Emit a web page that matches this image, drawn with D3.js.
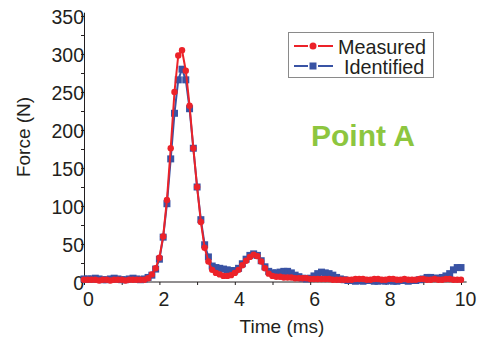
<!DOCTYPE html>
<html>
<head>
<meta charset="utf-8">
<script src="https://cdn.jsdelivr.net/npm/d3@7"></script>
<style>
  body { margin: 0; background: #fff; }
  text { font-family: "Liberation Sans", Arial, sans-serif; fill: #231f20; }
</style>
</head>
<body>
<div id="chart"></div>
<script>
// sample times (ms)
const timeMs = [
  0.0, 0.1, 0.2, 0.3, 0.4, 0.5, 0.6, 0.7, 0.8, 0.9,
  1.0, 1.1, 1.2, 1.3, 1.4, 1.5, 1.6, 1.7, 1.8, 1.9,
  2.0, 2.1, 2.2, 2.3, 2.4, 2.5, 2.6, 2.7, 2.8, 2.9,
  3.0, 3.1, 3.2, 3.3, 3.4, 3.5, 3.6, 3.7, 3.8, 3.9,
  4.0, 4.1, 4.2, 4.3, 4.4, 4.5, 4.6, 4.7, 4.8, 4.9,
  5.0, 5.1, 5.2, 5.3, 5.4, 5.5, 5.6, 5.7, 5.8, 5.9,
  6.0, 6.1, 6.2, 6.3, 6.4, 6.5, 6.6, 6.7, 6.8, 6.9,
  7.0, 7.1, 7.2, 7.3, 7.4, 7.5, 7.6, 7.7, 7.8, 7.9,
  8.0, 8.1, 8.2, 8.3, 8.4, 8.5, 8.6, 8.7, 8.8, 8.9,
  9.0, 9.1, 9.2, 9.3, 9.4, 9.5, 9.6, 9.7, 9.8, 9.9,
  10.0
];

const measured = [
  3, 3, 3, 3, 2, 3, 3, 2, 3, 3,
  3, 2, 3, 3, 3, 3, 3, 5, 10, 18,
  32, 60, 108, 176, 250, 298, 305, 278, 232, 176,
  125, 79, 45, 27, 16, 12, 10, 8, 8, 9,
  12, 16, 22, 28, 33, 36, 34, 27, 18, 11,
  8, 7, 7, 6, 6, 6, 5, 5, 5, 5,
  4, 4, 4, 4, 4, 4, 3, 3, 3, 3,
  3, 3, 4, 4, 4, 3, 3, 4, 4, 3,
  3, 4, 4, 3, 3, 4, 3, 3, 3, 4,
  4, 3, 3, 4, 3, 3, 4, 4, 3, 3,
  3
];

const identified = [
  4, 4, 4, 5, 4, 3, 3, 4, 5, 4,
  3, 3, 4, 5, 4, 3, 4, 6, 9, 17,
  30, 59, 103, 162, 222, 266, 280, 266, 228, 176,
  125, 82, 49, 33, 21, 19, 18, 17, 16, 15,
  15, 18, 24, 30, 35, 37, 35, 28, 20, 14,
  12, 12, 13, 14, 14, 12, 9, 7, 5, 4,
  5, 8, 11, 13, 12, 11, 9, 6, 4, 3,
  2, 2, 1, 2, 1, 2, 2, 1, 1, 2,
  1, 2, 1, 1, 2, 2, 1, 2, 2, 3,
  4, 6, 6, 5, 5, 6, 8, 11, 16, 19,
  19
];

const seriesNames = ["Measured", "Identified"];
const xTicks = [0, 2, 4, 6, 8, 10];
const xMinor = [1, 3, 5, 7, 9];
const yTicks = [0, 50, 100, 150, 200, 250, 300, 350];

const width = 483, height = 343;
const red = "#ec2229", blue = "#3953a4";

const svg = d3.select("#chart")
  .append("svg")
  .attr("width", width)
  .attr("height", height);

const x = d3.scaleLinear().domain([0, 10]).range([84, 461]);
const y = d3.scaleLinear().domain([0, 355]).range([282, 12.2]);

// axes
const xAxis = svg.append("g")
  .attr("transform", `translate(0,${y(0)})`)
  .call(d3.axisBottom(x).tickValues(d3.merge([xTicks, xMinor])).tickSizeInner(3).tickSizeOuter(0)
    .tickFormat(d => xTicks.includes(d) ? d : ""));
xAxis.select(".domain").attr("d", `M${x(0)},0H${x(10.15)}`);
xAxis.selectAll("text")
  .attr("x", 4)
  .attr("y", 10)
  .style("font-size", "19.5px")
  .style("font-family", "Liberation Sans, Arial, sans-serif")
  .attr("fill", "#231f20");

const yAxis = svg.append("g")
  .attr("transform", `translate(${x(0)},0)`)
  .call(d3.axisLeft(y).tickValues(d3.range(0, 351, 25)).tickSizeInner(3).tickSizeOuter(0)
    .tickFormat(d => yTicks.includes(d) ? d : ""));
yAxis.selectAll("text")
  .attr("x", 0)
  .attr("dy", "0.36em")
  .style("font-size", "19.5px")
  .style("font-family", "Liberation Sans, Arial, sans-serif")
  .attr("fill", "#231f20");
svg.selectAll(".domain, .tick line").attr("stroke", "#231f20");

svg.append("text")
  .attr("x", 282)
  .attr("y", 333)
  .attr("text-anchor", "middle")
  .style("font-size", "19px")
  .text("Time (ms)");

svg.append("text")
  .attr("transform", "translate(30,137) rotate(-90)")
  .attr("text-anchor", "middle")
  .style("font-size", "19px")
  .text("Force (N)");

// series
const line = d3.line()
  .x(d => x(d[0]))
  .y(d => y(d[1]));

const blueData = timeMs.map((t, i) => [t, identified[i]]);
const redData = timeMs.map((t, i) => [t, measured[i]]);

svg.append("path")
  .datum(blueData)
  .attr("fill", "none")
  .attr("stroke", blue)
  .attr("stroke-width", 2)
  .attr("d", line);

svg.selectAll(".sq")
  .data(blueData)
  .enter().append("rect")
  .attr("class", "sq")
  .attr("x", d => x(d[0]) - 3.5)
  .attr("y", d => y(d[1]) - 3.5)
  .attr("width", 7)
  .attr("height", 7)
  .attr("fill", blue);

svg.append("path")
  .datum(redData)
  .attr("fill", "none")
  .attr("stroke", red)
  .attr("stroke-width", 2)
  .attr("d", line);

svg.selectAll(".dot")
  .data(redData)
  .enter().append("circle")
  .attr("class", "dot")
  .attr("cx", d => x(d[0]))
  .attr("cy", d => y(d[1]))
  .attr("r", 3.2)
  .attr("fill", red);

// legend
const legend = svg.append("g");
legend.append("rect")
  .attr("x", 288.5)
  .attr("y", 32.5)
  .attr("width", 145)
  .attr("height", 45)
  .attr("fill", "#fff")
  .attr("stroke", "#8a8a8a");

const legendRows = [
  { name: seriesNames[0], color: red, shape: "circle", y: 46, tx: 338 },
  { name: seriesNames[1], color: blue, shape: "square", y: 66, tx: 344 }
];
legendRows.forEach(r => {
  legend.append("line").attr("x1", 294).attr("x2", 308).attr("y1", r.y).attr("y2", r.y)
    .attr("stroke", r.color).attr("stroke-width", 2);
  legend.append("line").attr("x1", 318).attr("x2", 333).attr("y1", r.y).attr("y2", r.y)
    .attr("stroke", r.color).attr("stroke-width", 2);
  if (r.shape === "circle") {
    legend.append("circle").attr("cx", 313).attr("cy", r.y).attr("r", 3.5).attr("fill", r.color);
  } else {
    legend.append("rect").attr("x", 309.5).attr("y", r.y - 3.5).attr("width", 7).attr("height", 7).attr("fill", r.color);
  }
  legend.append("text")
    .attr("x", r.tx)
    .attr("y", r.y + 8)
    .style("font-size", "19.8px")
    .text(r.name);
});

svg.append("text")
  .attr("x", 311)
  .attr("y", 146)
  .style("font-size", "30px")
  .style("font-weight", "bold")
  .style("fill", "#8dc63f")
  .text("Point A");
</script>
</body>
</html>
